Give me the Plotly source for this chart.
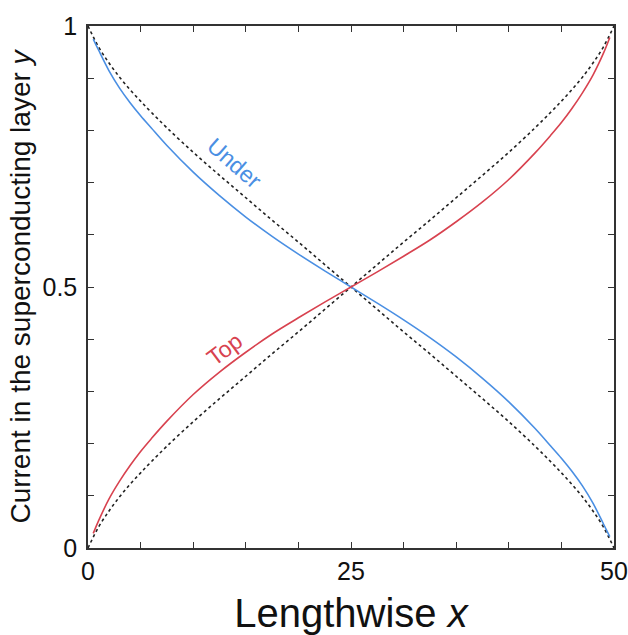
import plotly.graph_objects as go

# ---- data ----
x_under = [0.5, 1, 2, 3, 4, 5, 6, 7.5, 10, 12.5, 15, 17.5, 20, 22.5, 25, 27.5, 30, 32.5, 35,
           37.5, 40, 42.5, 44, 45, 46, 47, 48, 49, 49.6]
y_under = [0.975, 0.954, 0.914, 0.881, 0.853, 0.828, 0.805, 0.771, 0.720, 0.675, 0.634, 0.597,
           0.563, 0.531, 0.500, 0.469, 0.437, 0.403, 0.366, 0.325, 0.280, 0.229, 0.195, 0.172,
           0.147, 0.119, 0.086, 0.046, 0.022]

x_top = [0.5, 1, 2, 3, 4, 5, 6, 7.5, 10, 12.5, 15, 17.5, 20, 22.5, 25, 27.5, 30, 32.5, 35,
         37.5, 40, 42.5, 44, 45, 46, 47, 48, 49, 49.6]
y_top = [0.028, 0.052, 0.094, 0.128, 0.158, 0.185, 0.209, 0.243, 0.294, 0.337, 0.375, 0.410,
         0.441, 0.471, 0.500, 0.529, 0.559, 0.590, 0.625, 0.663, 0.706, 0.757, 0.791, 0.815,
         0.842, 0.872, 0.906, 0.948, 0.978]

x_ref = [0, 1, 2, 3, 4, 5, 6, 7.5, 10, 12.5, 15, 17.5, 20, 22.5, 25, 27.5, 30, 32.5, 35,
         37.5, 40, 42.5, 44, 45, 46, 47, 48, 49, 50]
y_ref_down = [1.0, 0.960, 0.929, 0.902, 0.878, 0.856, 0.835, 0.805, 0.758, 0.714, 0.671, 0.628,
              0.586, 0.543, 0.500, 0.457, 0.414, 0.372, 0.329, 0.286, 0.242, 0.195, 0.165,
              0.144, 0.122, 0.098, 0.071, 0.040, 0.0]
y_ref_up = [0.0, 0.040, 0.071, 0.098, 0.122, 0.144, 0.165, 0.195, 0.242, 0.286, 0.329, 0.372,
            0.414, 0.457, 0.500, 0.543, 0.586, 0.628, 0.671, 0.714, 0.758, 0.805, 0.835, 0.856,
            0.878, 0.902, 0.929, 0.960, 1.0]

x_tickvals = [0, 25, 50]
x_ticktext = ["0", "25", "50"]
y_tickvals = [0, 0.5, 1]
y_ticktext = ["0", "0.5", "1"]

BLUE = "#4A8FE3"
RED = "#D8424F"
FONT = "Arial, Liberation Sans, sans-serif"

fig = go.Figure()
dash_style = dict(color="#222222", width=1.6, dash="3px,3px")
fig.add_trace(go.Scatter(x=x_ref, y=y_ref_down, mode="lines", line=dash_style,
                         line_shape="spline", showlegend=False))
fig.add_trace(go.Scatter(x=x_ref, y=y_ref_up, mode="lines", line=dash_style,
                         line_shape="spline", showlegend=False))
fig.add_trace(go.Scatter(x=x_under, y=y_under, mode="lines", line=dict(color=BLUE, width=1.6),
                         line_shape="spline", showlegend=False))
fig.add_trace(go.Scatter(x=x_top, y=y_top, mode="lines", line=dict(color=RED, width=1.6),
                         line_shape="spline", showlegend=False))

fig.add_annotation(x=13.9, y=0.7375, text="Under", showarrow=False, textangle=41,
                   font=dict(family=FONT, size=23, color=BLUE))
fig.add_annotation(x=13.0, y=0.381, text="Top", showarrow=False, textangle=-37,
                   font=dict(family=FONT, size=23, color=RED))

axis_common = dict(showgrid=False, zeroline=False, showline=True, linecolor="#333333",
                   linewidth=1.5, mirror="allticks", ticks="inside", ticklen=6, tickwidth=1,
                   tickcolor="#333333", automargin=False,
                   tickfont=dict(family=FONT, size=25, color="#111111"))

fig.update_xaxes(range=[0, 50], tickvals=x_tickvals, ticktext=x_ticktext,
                 minor=dict(dtick=5, ticks="inside", ticklen=6, tickwidth=1, tickcolor="#333333"),
                 title=dict(text="Lengthwise <i>x</i>", font=dict(family=FONT, size=40, color="#111111"),
                            standoff=15),
                 **axis_common)
fig.update_yaxes(range=[0, 1], tickvals=y_tickvals, ticktext=y_ticktext, ticklabelstandoff=4,
                 minor=dict(dtick=0.1, ticks="inside", ticklen=6, tickwidth=1, tickcolor="#333333"),
                 title=dict(text="Current in the superconducting layer <i>y</i>",
                            font=dict(family=FONT, size=28, color="#111111"), standoff=4),
                 **axis_common)

fig.update_layout(width=628, height=635, margin=dict(l=88, r=14, t=26, b=87),
                  paper_bgcolor="white", plot_bgcolor="white", font=dict(family=FONT))

# remove the default page margin so the figure fills the window exactly
fig.write_html("out.html", config={"displayModeBar": False},
               post_script="document.body.style.margin='0';document.body.style.overflow='hidden';")
